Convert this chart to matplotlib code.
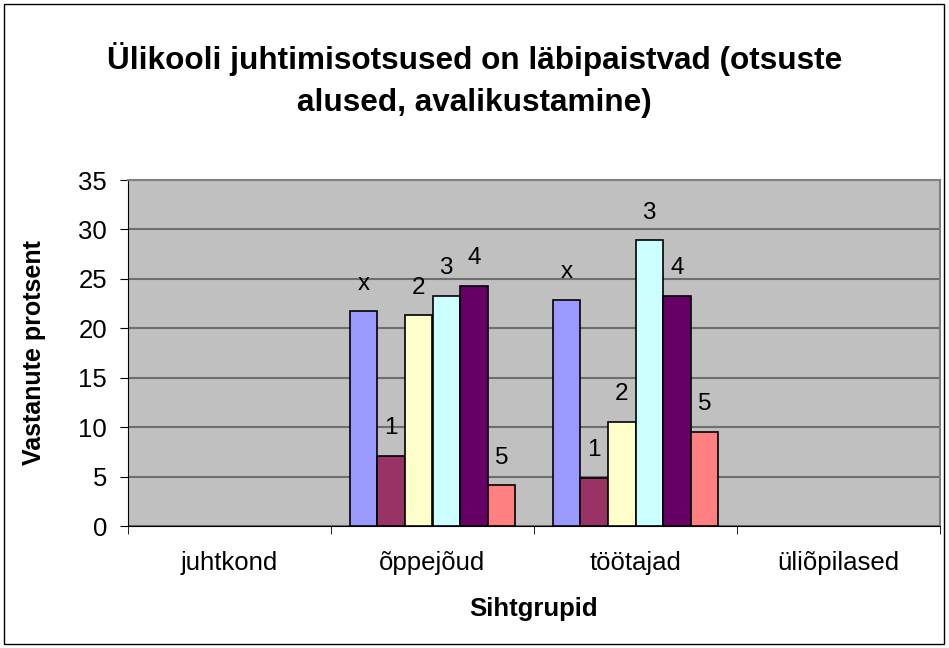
import matplotlib
matplotlib.use('Agg')
import matplotlib.pyplot as plt
from matplotlib.patches import Rectangle
import numpy as np

plt.rcParams['font.family'] = ['Liberation Sans', 'DejaVu Sans']

# Data
groups = ['juhtkond', 'õppejõud', 'töötajad', 'üliõpilased']
series = ['x', '1', '2', '3', '4', '5']
values = {
    'x': [np.nan, 21.7, 22.9, np.nan],
    '1': [np.nan, 7.1, 4.9, np.nan],
    '2': [np.nan, 21.3, 10.5, np.nan],
    '3': [np.nan, 23.3, 28.9, np.nan],
    '4': [np.nan, 24.3, 23.3, np.nan],
    '5': [np.nan, 4.1, 9.5, np.nan],
}
colors = ['#9999FF', '#993366', '#FFFFCC', '#CCFFFF', '#660066', '#FF8080']

fig = plt.figure(figsize=(9.49, 6.48), dpi=100)
fig.patches.append(Rectangle((4 / 949, 4 / 648), 940 / 949, 640 / 648,
                             transform=fig.transFigure, fill=False,
                             edgecolor='black', linewidth=1))

ax = fig.add_axes([128 / 949, 1 - 526 / 648, 812 / 949, 346 / 648])
ax.set_facecolor('#C0C0C0')

n = len(series)
bar_w = 0.136
pos = np.arange(len(groups))
for i, (s, c) in enumerate(zip(series, colors)):
    xs = pos + (i - (n - 1) / 2) * bar_w
    vals = values[s]
    ax.bar(xs, vals, width=bar_w, color=c, edgecolor='black', linewidth=1.2,
           zorder=3)
    for xv, v in zip(xs, vals):
        if not np.isnan(v):
            ax.annotate(s, (xv, v), xytext=(0, 20), textcoords='offset points',
                        ha='center', va='center', fontsize=17.5)

ax.set_xlim(-0.5, len(groups) - 0.5)
ax.set_ylim(0, 35)
ax.set_yticks(range(0, 36, 5))
ax.yaxis.grid(True, color='#6E6E6E', linewidth=1.5, zorder=0)
ax.set_axisbelow(True)

ax.set_xticks(pos)
ax.set_xticklabels(groups, fontsize=18.5)
ax.set_xticks(np.arange(-0.5, len(groups)), minor=True)
ax.tick_params(axis='x', which='major', length=0, pad=18)
ax.tick_params(axis='x', which='minor', length=6, direction='out')
ax.tick_params(axis='y', labelsize=18.5, length=6, pad=9, direction='out')

for side in ['top', 'right']:
    ax.spines[side].set_color('#808080')
    ax.spines[side].set_linewidth(1.5)
ax.spines['left'].set_color('black')
ax.spines['bottom'].set_color('black')

ax.set_xlabel('Sihtgrupid', fontsize=18.5, fontweight='bold', labelpad=16)
ax.set_ylabel('Vastanute protsent', fontsize=18, fontweight='bold', labelpad=23)

fig.text(0.5, 1 - 80 / 648, 'Ülikooli juhtimisotsused on läbipaistvad (otsuste\nalused, avalikustamine)',
         ha='center', va='center', fontsize=22.7, fontweight='bold', linespacing=1.55)

fig.savefig('out.png', dpi=100)
